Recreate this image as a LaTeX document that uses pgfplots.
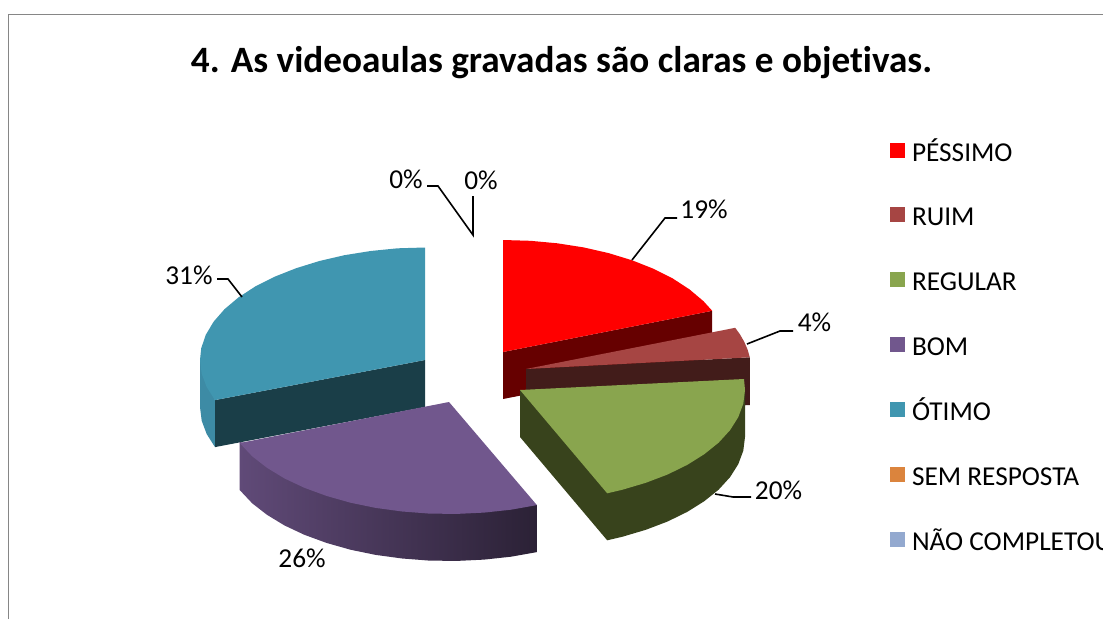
\documentclass[border=0pt]{standalone}
\usepackage{fontspec}
\setmainfont{Carlito}[Ligatures=NoCommon]
\usepackage{pgfplots}
\pgfplotsset{compat=1.18}
\usepackage{xcolor}
\definecolor{pess}{HTML}{FF0000}
\definecolor{pessd}{HTML}{660000}
\definecolor{ruim}{HTML}{A64543}
\definecolor{ruimd}{HTML}{421C1A}
\definecolor{regu}{HTML}{89A54E}
\definecolor{regud}{HTML}{38431C}
\definecolor{bom}{HTML}{71578D}
\definecolor{otimo}{HTML}{4096B0}
\definecolor{otimod}{HTML}{1A3E48}
\definecolor{otimoe}{HTML}{3D8BA5}
\definecolor{semr}{HTML}{DB843D}
\definecolor{naoc}{HTML}{93A9CF}
\definecolor{frameline}{HTML}{868686}
\tikzset{lab/.style={font=\fontsize{27.3}{32}\selectfont,inner sep=0pt}}
\pgfplotsset{part/.style={draw=none,forget plot},
  leader/.style={black,line width=1.6pt,forget plot}}
\begin{document}
\begin{tikzpicture}
\path[use as bounding box,clip] (0,0) rectangle (1103pt,619pt);
\begin{axis}[scale only axis,width=1103pt,height=619pt,
  xmin=0,xmax=1103,ymin=0,ymax=619,y dir=reverse,
  axis lines=none,clip=false,no markers,
  legend image code/.code={\fill[#1,draw=none] (0pt,-2pt) rectangle (15pt,13pt);},
  legend cell align=left,
  legend style={at={(axis cs:890,142.5)},anchor=north west,draw=none,fill=none,
    row sep=41.35pt,column sep=7pt,inner sep=0pt,outer sep=0pt,
    nodes={inner sep=0pt,text height=16pt,text depth=5pt},
    font=\fontsize{27.3}{32}\selectfont}]
\addlegendimage{fill=pess}\addlegendentry{PÉSSIMO}
\addlegendimage{fill=ruim}\addlegendentry{RUIM}
\addlegendimage{fill=regu}\addlegendentry{REGULAR}
\addlegendimage{fill=bom}\addlegendentry{BOM}
\addlegendimage{fill=otimo}\addlegendentry{ÓTIMO}
\addlegendimage{fill=semr}\addlegendentry{SEM RESPOSTA}
\addlegendimage{fill=naoc}\addlegendentry{NÃO COMPLETOU}

% chart frame
\addplot[frameline,line width=1pt,forget plot] coordinates {(8,619) (8,14) (1103,14)};

% PESSIMO 19%
\addplot[part,fill=pessd] coordinates {(503,352) (712.2,310.8) (712.2,358) (503,399)} -- cycle;
\addplot[part,fill=pess] coordinates {(503,352) (503,240) (530.4,240.8) (557.4,243.3) (583.6,247.4)
  (608.6,253.1) (632.1,260.3) (653.6,268.8) (672.8,278.5) (689.5,289.4) (703.5,301.2) (712.2,310.8)} -- cycle;

% RUIM 4%
\addplot[part,fill=ruimd] coordinates {(526,369) (749.8,357.3) (749.8,405) (526,417)} -- cycle;
\addplot[part,fill=ruim] coordinates {(526,369) (735.2,327.8) (740,334.4) (744.3,341.9) (747.6,349.6) (749.8,357.3)} -- cycle;

% REGULAR 20%
\addplot[part,fill=regud] coordinates {(520,390) (520,437) (607.2,540.3) (622.2,536.8) (645.8,529.8) (667.6,521.5)
  (687.2,511.9) (704.3,501.2) (718.7,489.6) (730.1,477.1) (738.3,464.1) (743.3,450.7) (745,437) (745,390)} -- cycle;
\addplot[part,fill=regu] coordinates {(520,390) (744,379) (745,390) (743.3,403.7) (738.3,417.1) (730.1,430.1)
  (718.7,442.6) (704.3,454.2) (687.2,464.9) (667.6,474.5) (645.8,482.8) (622.2,489.8) (607.2,493.3)} -- cycle;

% OTIMO 31%
\addplot[part,fill=otimoe] coordinates {(200,360) (200,407) (201.7,420.7) (206.7,434.1) (215,447.1) (215,400.1)} -- cycle;
\addplot[part,fill=otimod] coordinates {(215,400.1) (425,360) (425,407) (215,447.1)} -- cycle;
\addplot[part,fill=otimo] coordinates {(425,360) (425,247.5) (397.6,248.3) (370.6,251) (344.4,255.2) (319.4,261)
  (295.9,268.3) (274.4,276.8) (255.2,286.5) (238.5,297.4) (224.5,309.2) (213.6,321.7) (205.8,334.8)
  (201.2,348.3) (200,360) (201.7,373.7) (206.7,387.1) (215,400.1)} -- cycle;

% BOM 26%
\addplot[part,left color=bom!85!black,middle color=bom!68!black,right color=bom!38!black] coordinates {(239.7,442) (239.7,490) (252.2,503.3) (267,514.8) (284.4,525.4)
  (304.4,534.8) (326.5,542.9) (350.4,549.7) (375.7,554.9) (402.2,558.5) (429.4,560.6) (456.9,560.9)
  (484.2,559.6) (511,556.7) (536.9,552.1) (536.9,505.1)} -- cycle;
\addplot[part,fill=bom] coordinates {(449,402) (536.9,505.1) (511,509.7) (484.2,512.6) (456.9,513.9) (429.4,513.6)
  (402.2,511.5) (375.7,507.9) (350.4,502.7) (326.5,495.9) (304.4,487.8) (284.4,478.4) (267,467.8)
  (252.2,456.3) (239.7,443)} -- cycle;

% leader lines
\addplot[leader] coordinates {(632,260) (665,218) (677,218)};
\addplot[leader] coordinates {(747,344) (780,331) (793,331)};
\addplot[leader] coordinates {(715,494) (733,497) (751,497)};
\addplot[leader] coordinates {(242,297) (228,279) (217,279)};
\addplot[leader] coordinates {(427,186) (438,186) (473,235) (473,196)};

\node[font=\fontsize{37.2}{42}\selectfont\bfseries,inner sep=0pt] at (axis cs:561.5,63) {4. As videoaulas gravadas são claras e objetivas.};
\node[lab] at (axis cs:704,209.5) {19\%};
\node[lab] at (axis cs:814.5,322) {4\%};
\node[lab] at (axis cs:778.5,490) {20\%};
\node[lab] at (axis cs:302,558.5) {26\%};
\node[lab] at (axis cs:189,275) {31\%};
\node[lab] at (axis cs:406,179) {0\%};
\node[lab] at (axis cs:481,180) {0\%};
\end{axis}
\end{tikzpicture}
\end{document}
